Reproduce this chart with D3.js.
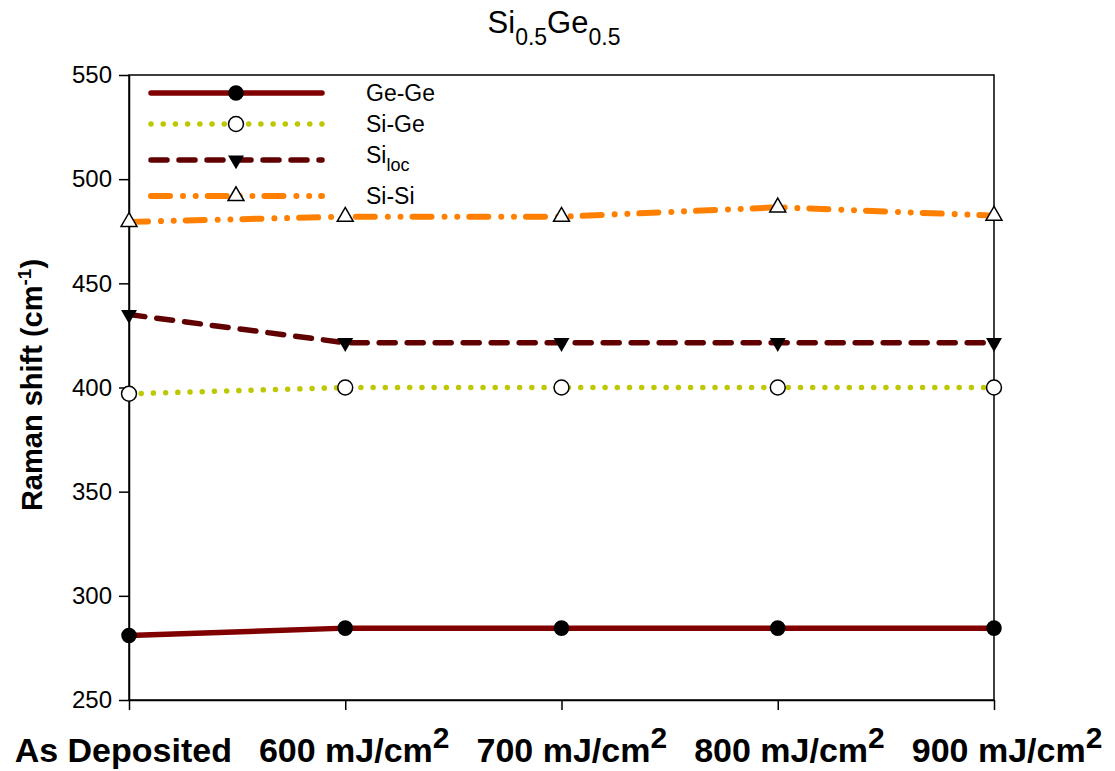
<!DOCTYPE html>
<html lang="en">
<head>
<meta charset="UTF-8">
<title>Si0.5Ge0.5 Raman shift</title>
<style>
  body { margin: 0; background: #fff; }
  svg { display: block; font-family: Arial, "Liberation Sans", sans-serif; }
</style>
</head>
<body>
<svg id="chart" width="1115" height="771"></svg>
<script src="https://cdnjs.cloudflare.com/ajax/libs/d3/7.8.5/d3.min.js"></script>
<script>
// x categories (laser fluence); numeric ones get " mJ/cm" + raised "2"
const categories = ["As Deposited", "600", "700", "800", "900"];
const unitText = " mJ/cm";
const unitSup = "2";

// Raman shift (cm^-1)
const geGe  = [281, 284.5, 284.5, 284.5, 284.5];
const siGe  = [397, 400, 400, 400, 400];
const siLoc = [435, 421.5, 421.5, 421.5, 421.5];
const siSi  = [479.5, 482, 482, 486.5, 482.5];

const yTicks = [250, 300, 350, 400, 450, 500, 550];

const series = [
  { name: "Ge-Ge", sub: null,  values: geGe,  color: "#800000", width: 5.5, dash: null,
    symbol: d3.symbolCircle, size: 190, fill: "#000", rotate: 0 },
  { name: "Si-Ge", sub: null,  values: siGe,  color: "#bec800", width: 5.5, dash: "0.01 12.2",
    symbol: d3.symbolCircle, size: 175, fill: "#fff", rotate: 0 },
  { name: "Si",    sub: "loc", values: siLoc, color: "#600000", width: 5.5, dash: "16 12",
    symbol: d3.symbolTriangle, size: 110, fill: "#000", rotate: 180 },
  { name: "Si-Si", sub: null,  values: siSi,  color: "#ff8000", width: 6,   dash: "19 13 0.01 12.7 0.01 12",
    symbol: d3.symbolTriangle, size: 110, fill: "#fff", rotate: 0 }
];

const W = 1115, H = 771;
const margin = { top: 75, right: 121, bottom: 71, left: 129 };
const svg = d3.select("#chart");

const x = d3.scalePoint().domain(categories).range([margin.left, W - margin.right]);
const y = d3.scaleLinear().domain([250, 550]).range([H - margin.bottom, margin.top]);

// plot frame
svg.append("rect")
  .attr("x", margin.left).attr("y", margin.top)
  .attr("width", W - margin.right - margin.left)
  .attr("height", H - margin.bottom - margin.top)
  .attr("fill", "none").attr("stroke", "#000").attr("stroke-width", 1.5);

// y axis
const yAxis = svg.append("g")
  .attr("transform", `translate(${margin.left},0)`)
  .call(d3.axisLeft(y).tickValues(yTicks).tickSize(10).tickSizeOuter(0).tickPadding(7));
yAxis.attr("font-size", 24).attr("font-family", null);
yAxis.selectAll("line, path").attr("stroke-width", 1.5);
yAxis.selectAll("text").attr("fill", "#000");

// x axis, tick marks only
const xAxis = svg.append("g")
  .attr("transform", `translate(0,${H - margin.bottom})`)
  .call(d3.axisBottom(x).tickSize(10).tickSizeOuter(0).tickFormat(""));
xAxis.selectAll("line, path").attr("stroke-width", 1.5);

// x labels written as one line under the axis
const xLab = svg.append("text")
  .attr("x", (margin.left + W - margin.right) / 2 - 3)
  .attr("y", 762)
  .attr("text-anchor", "middle")
  .attr("font-size", 34)
  .attr("font-weight", "bold");
let raised = false;
categories.forEach((c, i) => {
  const t = xLab.append("tspan").text(c);
  if (i > 0) t.attr("dx", 27);
  if (raised) { t.attr("dy", 14); raised = false; }
  if (c !== "As Deposited") {
    xLab.append("tspan").text(unitText);
    xLab.append("tspan").text(unitSup).attr("font-size", 30).attr("dy", -14);
    raised = true;
  }
});

// y title
const yLab = svg.append("text")
  .attr("transform", "translate(42,385) rotate(-90)")
  .attr("text-anchor", "middle")
  .attr("font-size", 29)
  .attr("font-weight", "bold");
yLab.append("tspan").text("Raman shift (cm");
yLab.append("tspan").text("-1").attr("font-size", 19).attr("dy", -11);
yLab.append("tspan").text(")").attr("dy", 11);

// title
const title = svg.append("text")
  .attr("x", 554).attr("y", 33)
  .attr("text-anchor", "middle")
  .attr("font-size", 31);
title.append("tspan").text("Si");
title.append("tspan").text("0.5").attr("font-size", 23).attr("dy", 12);
title.append("tspan").text("Ge").attr("dy", -12);
title.append("tspan").text("0.5").attr("font-size", 23).attr("dy", 12);

// data lines
const line = d3.line()
  .x((d, i) => x(categories[i]))
  .y(d => y(d));

series.forEach(s => {
  svg.append("path")
    .datum(s.values)
    .attr("d", line)
    .attr("fill", "none")
    .attr("stroke", s.color)
    .attr("stroke-width", s.width)
    .attr("stroke-linecap", "round")
    .attr("stroke-dasharray", s.dash);
});

// markers on top
series.forEach(s => {
  svg.append("g").selectAll("path")
    .data(s.values)
    .join("path")
    .attr("d", d3.symbol().type(s.symbol).size(s.size))
    .attr("transform", (d, i) => `translate(${x(categories[i])},${y(d)}) rotate(${s.rotate})`)
    .attr("fill", s.fill)
    .attr("stroke", "#000")
    .attr("stroke-width", s.fill === "#fff" ? 1.5 : 0);
});

// legend
const legendRows = [93, 124, 160, 196];
const legend = svg.append("g");
series.forEach((s, i) => {
  const ry = legendRows[i];
  legend.append("line")
    .attr("x1", 151).attr("x2", 322)
    .attr("y1", ry).attr("y2", ry)
    .attr("stroke", s.color)
    .attr("stroke-width", s.width)
    .attr("stroke-linecap", "round")
    .attr("stroke-dasharray", s.dash);
  legend.append("path")
    .attr("d", d3.symbol().type(s.symbol).size(s.size))
    .attr("transform", `translate(236,${ry}) rotate(${s.rotate})`)
    .attr("fill", s.fill)
    .attr("stroke", "#000")
    .attr("stroke-width", s.fill === "#fff" ? 1.5 : 0);
  const t = legend.append("text")
    .attr("x", 366)
    .attr("y", s.sub ? ry + 3 : ry + 8)
    .attr("font-size", 23);
  t.append("tspan").text(s.name);
  if (s.sub) t.append("tspan").text(s.sub).attr("font-size", 18).attr("dy", 8);
});
</script>
</body>
</html>
